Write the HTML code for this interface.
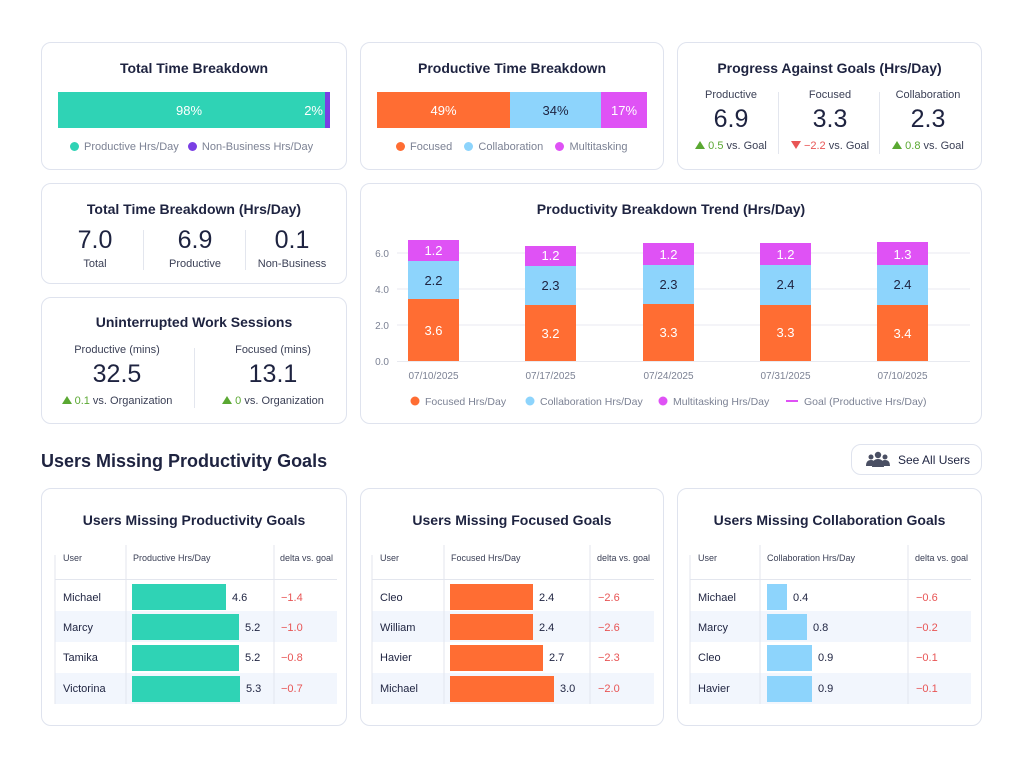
<!DOCTYPE html>
<html><head><meta charset="utf-8"><style>
*{margin:0;padding:0;box-sizing:border-box}
body{width:1024px;height:768px;background:#fff;position:relative;font-family:"Liberation Sans",sans-serif;color:#1e2340;overflow:hidden}
.card{position:absolute;border:1.5px solid #dfe3ee;border-radius:10px;background:#fff}
.a{position:absolute;white-space:nowrap}
.c{position:absolute;text-align:center;white-space:nowrap}
.h{font-weight:bold;font-size:14px;color:#1e2340}
.lg{font-size:11px;color:#7c8294}
.dot{display:inline-block;width:9px;height:9px;border-radius:50%;vertical-align:-1px;margin-right:5px}
.vl{position:absolute;width:1px;background:#e3e6ee}
.big{font-size:25px;color:#1e2340}
.sm{font-size:11px;color:#3a3f55}
.g{color:#5aa832}.r{color:#e85555}
.tri{display:inline-block;width:0;height:0;border-left:5px solid transparent;border-right:5px solid transparent;border-bottom:8px solid #5aa832;margin-right:3px;vertical-align:0px}
.trd{display:inline-block;width:0;height:0;border-left:5px solid transparent;border-right:5px solid transparent;border-top:8px solid #e85555;margin-right:3px;vertical-align:0px}
.seg{position:absolute;color:#fff;font-size:13px;text-align:center;display:flex;align-items:center;justify-content:center}
</style></head><body>

<!-- Card 1 -->
<div class="card" style="left:41px;top:42px;width:306px;height:128px"></div>
<div class="c h" style="left:41px;width:306px;top:60px">Total Time Breakdown</div>
<div class="seg" style="left:58px;top:92px;width:267px;height:36px;background:#2fd3b5"><span style="position:absolute;left:118px">98%</span><span style="position:absolute;right:2px">2%</span></div>
<div class="a" style="left:325px;top:92px;width:5px;height:36px;background:#7a3fe4"></div>
<div class="a lg" style="left:70px;top:141px"><span class="dot" style="background:#2fd3b5"></span>Productive Hrs/Day &nbsp;&nbsp;<span class="dot" style="background:#7a3fe4"></span>Non-Business Hrs/Day</div>

<!-- Card 2 -->
<div class="card" style="left:360px;top:42px;width:304px;height:128px"></div>
<div class="c h" style="left:360px;width:304px;top:60px">Productive Time Breakdown</div>
<div class="seg" style="left:377px;top:92px;width:133px;height:36px;background:#ff6d33">49%</div>
<div class="seg" style="left:510px;top:92px;width:91px;height:36px;background:#8dd4fc;color:#1e2340">34%</div>
<div class="seg" style="left:601px;top:92px;width:46px;height:36px;background:#df52f5">17%</div>
<div class="a lg" style="left:396px;top:141px"><span class="dot" style="background:#ff6d33"></span>Focused &nbsp;&nbsp;&nbsp;<span class="dot" style="background:#8dd4fc"></span>Collaboration &nbsp;&nbsp;&nbsp;<span class="dot" style="background:#df52f5"></span>Multitasking</div>

<!-- Card 3 -->
<div class="card" style="left:677px;top:42px;width:305px;height:128px"></div>
<div class="c h" style="left:677px;width:305px;top:60px">Progress Against Goals (Hrs/Day)</div>
<div class="vl" style="left:778px;top:92px;height:62px"></div>
<div class="vl" style="left:879px;top:92px;height:62px"></div>
<div class="c sm" style="left:681px;width:100px;top:89px">Productive</div>
<div class="c sm" style="left:780px;width:100px;top:89px">Focused</div>
<div class="c sm" style="left:878px;width:100px;top:89px">Collaboration</div>
<div class="c big" style="left:681px;width:100px;top:105px">6.9</div>
<div class="c big" style="left:780px;width:100px;top:105px">3.3</div>
<div class="c big" style="left:878px;width:100px;top:105px">2.3</div>
<div class="c sm" style="left:681px;width:100px;top:140px"><span class="tri"></span><span class="g">0.5</span> vs. Goal</div>
<div class="c sm" style="left:780px;width:100px;top:140px"><span class="trd"></span><span class="r">−2.2</span> vs. Goal</div>
<div class="c sm" style="left:878px;width:100px;top:140px"><span class="tri"></span><span class="g">0.8</span> vs. Goal</div>

<!-- Card 4 -->
<div class="card" style="left:41px;top:183px;width:306px;height:101px"></div>
<div class="c h" style="left:41px;width:306px;top:201px">Total Time Breakdown (Hrs/Day)</div>
<div class="vl" style="left:143px;top:230px;height:40px"></div>
<div class="vl" style="left:245px;top:230px;height:40px"></div>
<div class="c big" style="left:45px;width:100px;top:226px">7.0</div>
<div class="c big" style="left:145px;width:100px;top:226px">6.9</div>
<div class="c big" style="left:242px;width:100px;top:226px">0.1</div>
<div class="c sm" style="left:45px;width:100px;top:258px">Total</div>
<div class="c sm" style="left:145px;width:100px;top:258px">Productive</div>
<div class="c sm" style="left:242px;width:100px;top:258px">Non-Business</div>

<!-- Card 5 -->
<div class="card" style="left:41px;top:297px;width:306px;height:127px"></div>
<div class="c h" style="left:41px;width:306px;top:314px">Uninterrupted Work Sessions</div>
<div class="vl" style="left:194px;top:348px;height:60px"></div>
<div class="c sm" style="left:57px;width:120px;top:344px">Productive (mins)</div>
<div class="c sm" style="left:213px;width:120px;top:344px">Focused (mins)</div>
<div class="c big" style="left:57px;width:120px;top:360px">32.5</div>
<div class="c big" style="left:213px;width:120px;top:360px">13.1</div>
<div class="c sm" style="left:47px;width:140px;top:395px"><span class="tri"></span><span class="g">0.1</span> vs. Organization</div>
<div class="c sm" style="left:203px;width:140px;top:395px"><span class="tri"></span><span class="g">0</span> vs. Organization</div>

<!-- Card 6 trend -->
<div class="card" style="left:360px;top:183px;width:622px;height:241px"></div>
<div class="c h" style="left:360px;width:622px;top:201px">Productivity Breakdown Trend (Hrs/Day)</div>

<div class="a" style="left:41px;top:451px;font-size:18px;font-weight:bold;color:#1e2340">Users Missing Productivity Goals</div>
<div class="card" style="left:851px;top:444px;width:131px;height:31px;background:transparent"></div>
<div class="a" style="left:898px;top:453px;font-size:12px;color:#1e2340">See All Users</div>

<!-- Bottom cards -->
<div class="card" style="left:41px;top:488px;width:306px;height:238px"></div>
<div class="card" style="left:360px;top:488px;width:304px;height:238px"></div>
<div class="card" style="left:677px;top:488px;width:305px;height:238px"></div>
<div class="c h" style="left:41px;width:306px;top:512px">Users Missing Productivity Goals</div>
<div class="c h" style="left:360px;width:304px;top:512px">Users Missing Focused Goals</div>
<div class="c h" style="left:677px;width:305px;top:512px">Users Missing Collaboration Goals</div>

<svg style="position:absolute;left:0;top:0" width="1024" height="768" font-family="Liberation Sans, sans-serif">
<g stroke="#e8eaf0" stroke-width="1">
<line x1="397" y1="253" x2="970" y2="253"/><line x1="397" y1="289" x2="970" y2="289"/><line x1="397" y1="325" x2="970" y2="325"/><line x1="397" y1="361.5" x2="970" y2="361.5"/>
</g>
<g font-size="10" fill="#7c8294" text-anchor="end">
<text x="389" y="257">6.0</text><text x="389" y="293">4.0</text><text x="389" y="329">2.0</text><text x="389" y="365">0.0</text>
</g>
<g font-size="13" text-anchor="middle">
<rect x="408" y="240" width="51" height="21" fill="#df52f5"/><rect x="408" y="261" width="51" height="38" fill="#8dd4fc"/><rect x="408" y="299" width="51" height="62" fill="#ff6d33"/>
<text x="433.5" y="255" fill="#fff">1.2</text><text x="433.5" y="285" fill="#1e2340">2.2</text><text x="433.5" y="335" fill="#fff">3.6</text>
<rect x="525" y="246" width="51" height="20" fill="#df52f5"/><rect x="525" y="266" width="51" height="39" fill="#8dd4fc"/><rect x="525" y="305" width="51" height="56" fill="#ff6d33"/>
<text x="550.5" y="260" fill="#fff">1.2</text><text x="550.5" y="290" fill="#1e2340">2.3</text><text x="550.5" y="338" fill="#fff">3.2</text>
<rect x="643" y="243" width="51" height="22" fill="#df52f5"/><rect x="643" y="265" width="51" height="39" fill="#8dd4fc"/><rect x="643" y="304" width="51" height="57" fill="#ff6d33"/>
<text x="668.5" y="259" fill="#fff">1.2</text><text x="668.5" y="289" fill="#1e2340">2.3</text><text x="668.5" y="337" fill="#fff">3.3</text>
<rect x="760" y="243" width="51" height="22" fill="#df52f5"/><rect x="760" y="265" width="51" height="40" fill="#8dd4fc"/><rect x="760" y="305" width="51" height="56" fill="#ff6d33"/>
<text x="785.5" y="259" fill="#fff">1.2</text><text x="785.5" y="289" fill="#1e2340">2.4</text><text x="785.5" y="337" fill="#fff">3.3</text>
<rect x="877" y="242" width="51" height="23" fill="#df52f5"/><rect x="877" y="265" width="51" height="40" fill="#8dd4fc"/><rect x="877" y="305" width="51" height="56" fill="#ff6d33"/>
<text x="902.5" y="259" fill="#fff">1.3</text><text x="902.5" y="289" fill="#1e2340">2.4</text><text x="902.5" y="338" fill="#fff">3.4</text>
</g>
<g font-size="10" fill="#7c8294" text-anchor="middle">
<text x="433.5" y="379">07/10/2025</text><text x="550.5" y="379">07/17/2025</text><text x="668.5" y="379">07/24/2025</text><text x="785.5" y="379">07/31/2025</text><text x="902.5" y="379">07/10/2025</text>
</g>
<g font-size="10.5" fill="#7c8294">
<circle cx="415" cy="401" r="4.5" fill="#ff6d33"/><text x="425" y="405">Focused Hrs/Day</text>
<circle cx="530" cy="401" r="4.5" fill="#8dd4fc"/><text x="540" y="405">Collaboration Hrs/Day</text>
<circle cx="663" cy="401" r="4.5" fill="#df52f5"/><text x="673" y="405">Multitasking Hrs/Day</text>
<line x1="786" y1="401" x2="798" y2="401" stroke="#df52f5" stroke-width="2"/><text x="804" y="405">Goal (Productive Hrs/Day)</text>
</g>
<g fill="#4a4f63">
<circle cx="878" cy="455" r="3.2"/><circle cx="871" cy="457" r="2.5"/><circle cx="885" cy="457" r="2.5"/>
<path d="M872 467 q0-8 6-8 q6 0 6 8z"/><path d="M866 466 q0-6 5-6 q3 0 3 2 l-2 4z"/><path d="M890 466 q0-6 -5-6 q-3 0 -3 2 l2 4z"/>
</g>

<g>
<rect x="55" y="611" width="282" height="31" fill="#f2f6fd"/><rect x="55" y="673" width="282" height="31" fill="#f2f6fd"/>
<line x1="55" y1="555" x2="55" y2="704" stroke="#e3e6ee"/><line x1="126" y1="545" x2="126" y2="704" stroke="#e3e6ee"/><line x1="274" y1="545" x2="274" y2="704" stroke="#e3e6ee"/>
<line x1="55" y1="579.5" x2="337" y2="579.5" stroke="#e3e6ee"/>
<g font-size="9" fill="#3a3f55"><text x="63" y="561">User</text><text x="133" y="561">Productive Hrs/Day</text><text x="280" y="561">delta vs. goal</text></g>
<g fill="#2fd3b5"><rect x="132" y="584" width="94" height="26"/><rect x="132" y="614" width="107" height="26"/><rect x="132" y="645" width="107" height="26"/><rect x="132" y="676" width="108" height="26"/></g>
<g font-size="11" fill="#1e2340"><text x="63" y="601">Michael</text><text x="63" y="631">Marcy</text><text x="63" y="661">Tamika</text><text x="63" y="692">Victorina</text>
<text x="232" y="601">4.6</text><text x="245" y="631">5.2</text><text x="245" y="661">5.2</text><text x="246" y="692">5.3</text></g>
<g font-size="11" fill="#e85555"><text x="281" y="601">−1.4</text><text x="281" y="631">−1.0</text><text x="281" y="661">−0.8</text><text x="281" y="692">−0.7</text></g>
</g>
<g>
<rect x="372" y="611" width="282" height="31" fill="#f2f6fd"/><rect x="372" y="673" width="282" height="31" fill="#f2f6fd"/>
<line x1="372" y1="555" x2="372" y2="704" stroke="#e3e6ee"/><line x1="444" y1="545" x2="444" y2="704" stroke="#e3e6ee"/><line x1="590" y1="545" x2="590" y2="704" stroke="#e3e6ee"/>
<line x1="372" y1="579.5" x2="654" y2="579.5" stroke="#e3e6ee"/>
<g font-size="9" fill="#3a3f55"><text x="380" y="561">User</text><text x="451" y="561">Focused Hrs/Day</text><text x="597" y="561">delta vs. goal</text></g>
<g fill="#ff6d33"><rect x="450" y="584" width="83" height="26"/><rect x="450" y="614" width="83" height="26"/><rect x="450" y="645" width="93" height="26"/><rect x="450" y="676" width="104" height="26"/></g>
<g font-size="11" fill="#1e2340"><text x="380" y="601">Cleo</text><text x="380" y="631">William</text><text x="380" y="661">Havier</text><text x="380" y="692">Michael</text>
<text x="539" y="601">2.4</text><text x="539" y="631">2.4</text><text x="549" y="661">2.7</text><text x="560" y="692">3.0</text></g>
<g font-size="11" fill="#e85555"><text x="598" y="601">−2.6</text><text x="598" y="631">−2.6</text><text x="598" y="661">−2.3</text><text x="598" y="692">−2.0</text></g>
</g>
<g>
<rect x="690" y="611" width="281" height="31" fill="#f2f6fd"/><rect x="690" y="673" width="281" height="31" fill="#f2f6fd"/>
<line x1="690" y1="555" x2="690" y2="704" stroke="#e3e6ee"/><line x1="760" y1="545" x2="760" y2="704" stroke="#e3e6ee"/><line x1="908" y1="545" x2="908" y2="704" stroke="#e3e6ee"/>
<line x1="690" y1="579.5" x2="971" y2="579.5" stroke="#e3e6ee"/>
<g font-size="9" fill="#3a3f55"><text x="698" y="561">User</text><text x="767" y="561">Collaboration Hrs/Day</text><text x="915" y="561">delta vs. goal</text></g>
<g fill="#8dd4fc"><rect x="767" y="584" width="20" height="26"/><rect x="767" y="614" width="40" height="26"/><rect x="767" y="645" width="45" height="26"/><rect x="767" y="676" width="45" height="26"/></g>
<g font-size="11" fill="#1e2340"><text x="698" y="601">Michael</text><text x="698" y="631">Marcy</text><text x="698" y="661">Cleo</text><text x="698" y="692">Havier</text>
<text x="793" y="601">0.4</text><text x="813" y="631">0.8</text><text x="818" y="661">0.9</text><text x="818" y="692">0.9</text></g>
<g font-size="11" fill="#e85555"><text x="916" y="601">−0.6</text><text x="916" y="631">−0.2</text><text x="916" y="661">−0.1</text><text x="916" y="692">−0.1</text></g>
</g>
</svg>
</body></html>
